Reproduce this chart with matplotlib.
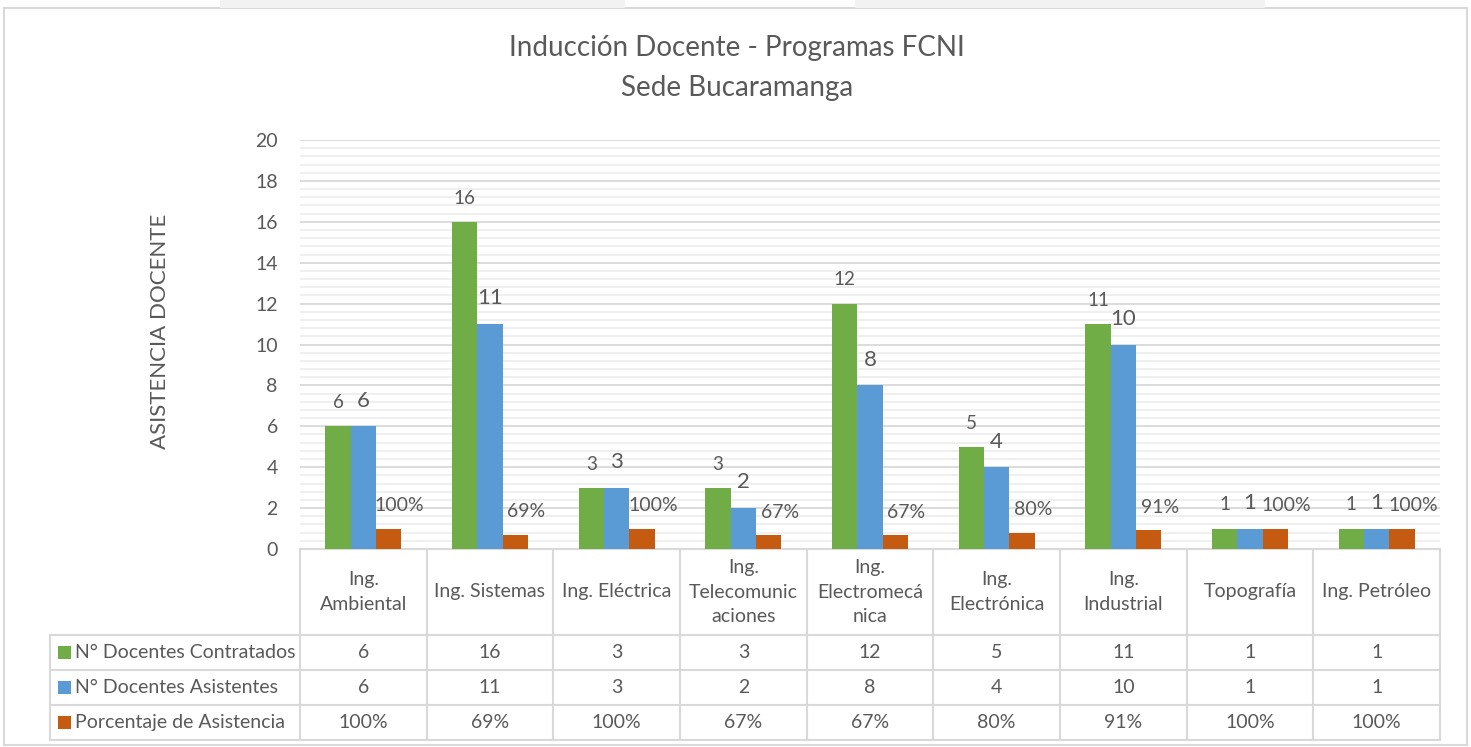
import matplotlib
matplotlib.use("Agg")
import matplotlib.pyplot as plt
import numpy as np
from matplotlib.patches import Rectangle

plt.rcParams['font.family'] = ['Lato', 'DejaVu Sans']

programas = ["Ing.\nAmbiental", "Ing. Sistemas", "Ing. Eléctrica", "Ing.\nTelecomunic\naciones",
             "Ing.\nElectromecá\nnica", "Ing.\nElectrónica", "Ing.\nIndustrial", "Topografía",
             "Ing. Petróleo"]
contratados = [6, 16, 3, 3, 12, 5, 11, 1, 1]
asistentes = [6, 11, 3, 2, 8, 4, 10, 1, 1]
porcentaje = [1.0, 0.69, 1.0, 0.67, 0.67, 0.80, 0.91, 1.0, 1.0]
series_names = ["N° Docentes Contratados", "N° Docentes Asistentes", "Porcentaje de Asistencia"]

GREEN = "#70ad47"
BLUE = "#5b9bd5"
ORANGE = "#c55a11"
TEXT = "#595959"
LINE = "#d9d9d9"

W, H = 1471, 747
fig = plt.figure(figsize=(W / 100, H / 100), dpi=100)

# outer frame and tabs at the top
fig.patches.append(Rectangle((4 / W, 1 - 745 / H), 1463 / W, 737 / H, transform=fig.transFigure,
                             fill=False, edgecolor=LINE, linewidth=1.5))
for x0, x1 in [(220, 625), (855, 1265)]:
    fig.patches.append(Rectangle((x0 / W, 1 - 8 / H), (x1 - x0) / W, 8 / H, transform=fig.transFigure,
                                 facecolor="#f2f2f2", edgecolor="none"))

left, right, top, bottom = 300, 1440, 140, 549
ax = fig.add_axes([left / W, 1 - bottom / H, (right - left) / W, (bottom - top) / H])

x = np.arange(len(programas))
bw = 0.2
ax.bar(x - bw, contratados, bw, color=GREEN, zorder=3)
ax.bar(x, asistentes, bw, color=BLUE, zorder=3)
ax.bar(x + bw, porcentaje, bw, color=ORANGE, zorder=3)

for i in range(len(programas)):
    ax.annotate(str(contratados[i]), (x[i] - bw, contratados[i]), xytext=(0, 17),
                textcoords="offset points", ha="center", va="center", fontsize=13.5, color=TEXT)
    ax.annotate(str(asistentes[i]), (x[i], asistentes[i]), xytext=(0, 18.5),
                textcoords="offset points", ha="center", va="center", fontsize=16, color=TEXT)
    ax.annotate(f"{porcentaje[i]:.0%}", (x[i] + bw, porcentaje[i]), xytext=(8, 16.5),
                textcoords="offset points", ha="center", va="center", fontsize=14, color=TEXT)

ax.set_xlim(-0.5, len(programas) - 0.5)
ax.set_ylim(0, 20)
ax.set_yticks(np.arange(0, 21, 2))
ax.set_yticks(np.arange(0, 20.01, 0.4), minor=True)
ax.grid(axis="y", which="major", color=LINE, linewidth=1.3, zorder=0)
ax.grid(axis="y", which="minor", color="#eeeeee", linewidth=1.3, zorder=0)
ax.set_xticks([])
ax.tick_params(axis="y", which="both", length=0, pad=16, labelsize=14, labelcolor=TEXT)
for s in ax.spines.values():
    s.set_visible(False)

# axis title, placed where the original has it
fig.text(160 / W, 1 - 331 / H, "ASISTENCIA DOCENTE", rotation=90, ha="center", va="center",
         fontsize=16, color=TEXT)

# data table below the plot
ph = bottom - top
def yf(py):
    return -(py - bottom) / ph

tr = ax.get_xaxis_transform()
px_unit = (right - left) / len(programas)
x_leg = -0.5 - (left - 50) / px_unit
rows = [549, 635, 670, 705, 740]
kw = dict(transform=tr, clip_on=False, color=LINE, linewidth=1.5)

ax.plot([-0.5, len(programas) - 0.5], [yf(549), yf(549)], **kw)
for r in rows[1:]:
    ax.plot([x_leg, len(programas) - 0.5], [yf(r), yf(r)], **kw)
for b in np.arange(len(programas) + 1) - 0.5:
    ax.plot([b, b], [yf(549), yf(740)], **kw)
ax.plot([x_leg, x_leg], [yf(635), yf(740)], **kw)

for i, p in enumerate(programas):
    ax.text(x[i], yf(592), p, transform=tr, ha="center", va="center", fontsize=14,
            color=TEXT, linespacing=1.55, clip_on=False)

table_vals = [[str(v) for v in contratados], [str(v) for v in asistentes],
              [f"{v:.0%}" for v in porcentaje]]
colors = [GREEN, BLUE, ORANGE]
for r in range(3):
    yc = yf((rows[r + 1] + rows[r + 2]) / 2)
    for i in range(len(programas)):
        ax.text(x[i], yc, table_vals[r][i], transform=tr, ha="center", va="center",
                fontsize=14, color=TEXT, clip_on=False)
    sq = 13 / ph
    ax.add_patch(Rectangle((x_leg + 8 / px_unit, yc - sq / 2), 13 / px_unit, sq, transform=tr,
                           facecolor=colors[r], edgecolor="none", clip_on=False))
    ax.text(x_leg + 25 / px_unit, yc, series_names[r], transform=tr, ha="left", va="center",
            fontsize=14, color=TEXT, clip_on=False)

fig.text(737 / W, 1 - 48 / H, "Inducción Docente - Programas FCNI",
         ha="center", va="center", fontsize=20, color=TEXT)
fig.text(737 / W, 1 - 88 / H, "Sede Bucaramanga",
         ha="center", va="center", fontsize=20, color=TEXT)

fig.savefig("out.png", dpi=100)
